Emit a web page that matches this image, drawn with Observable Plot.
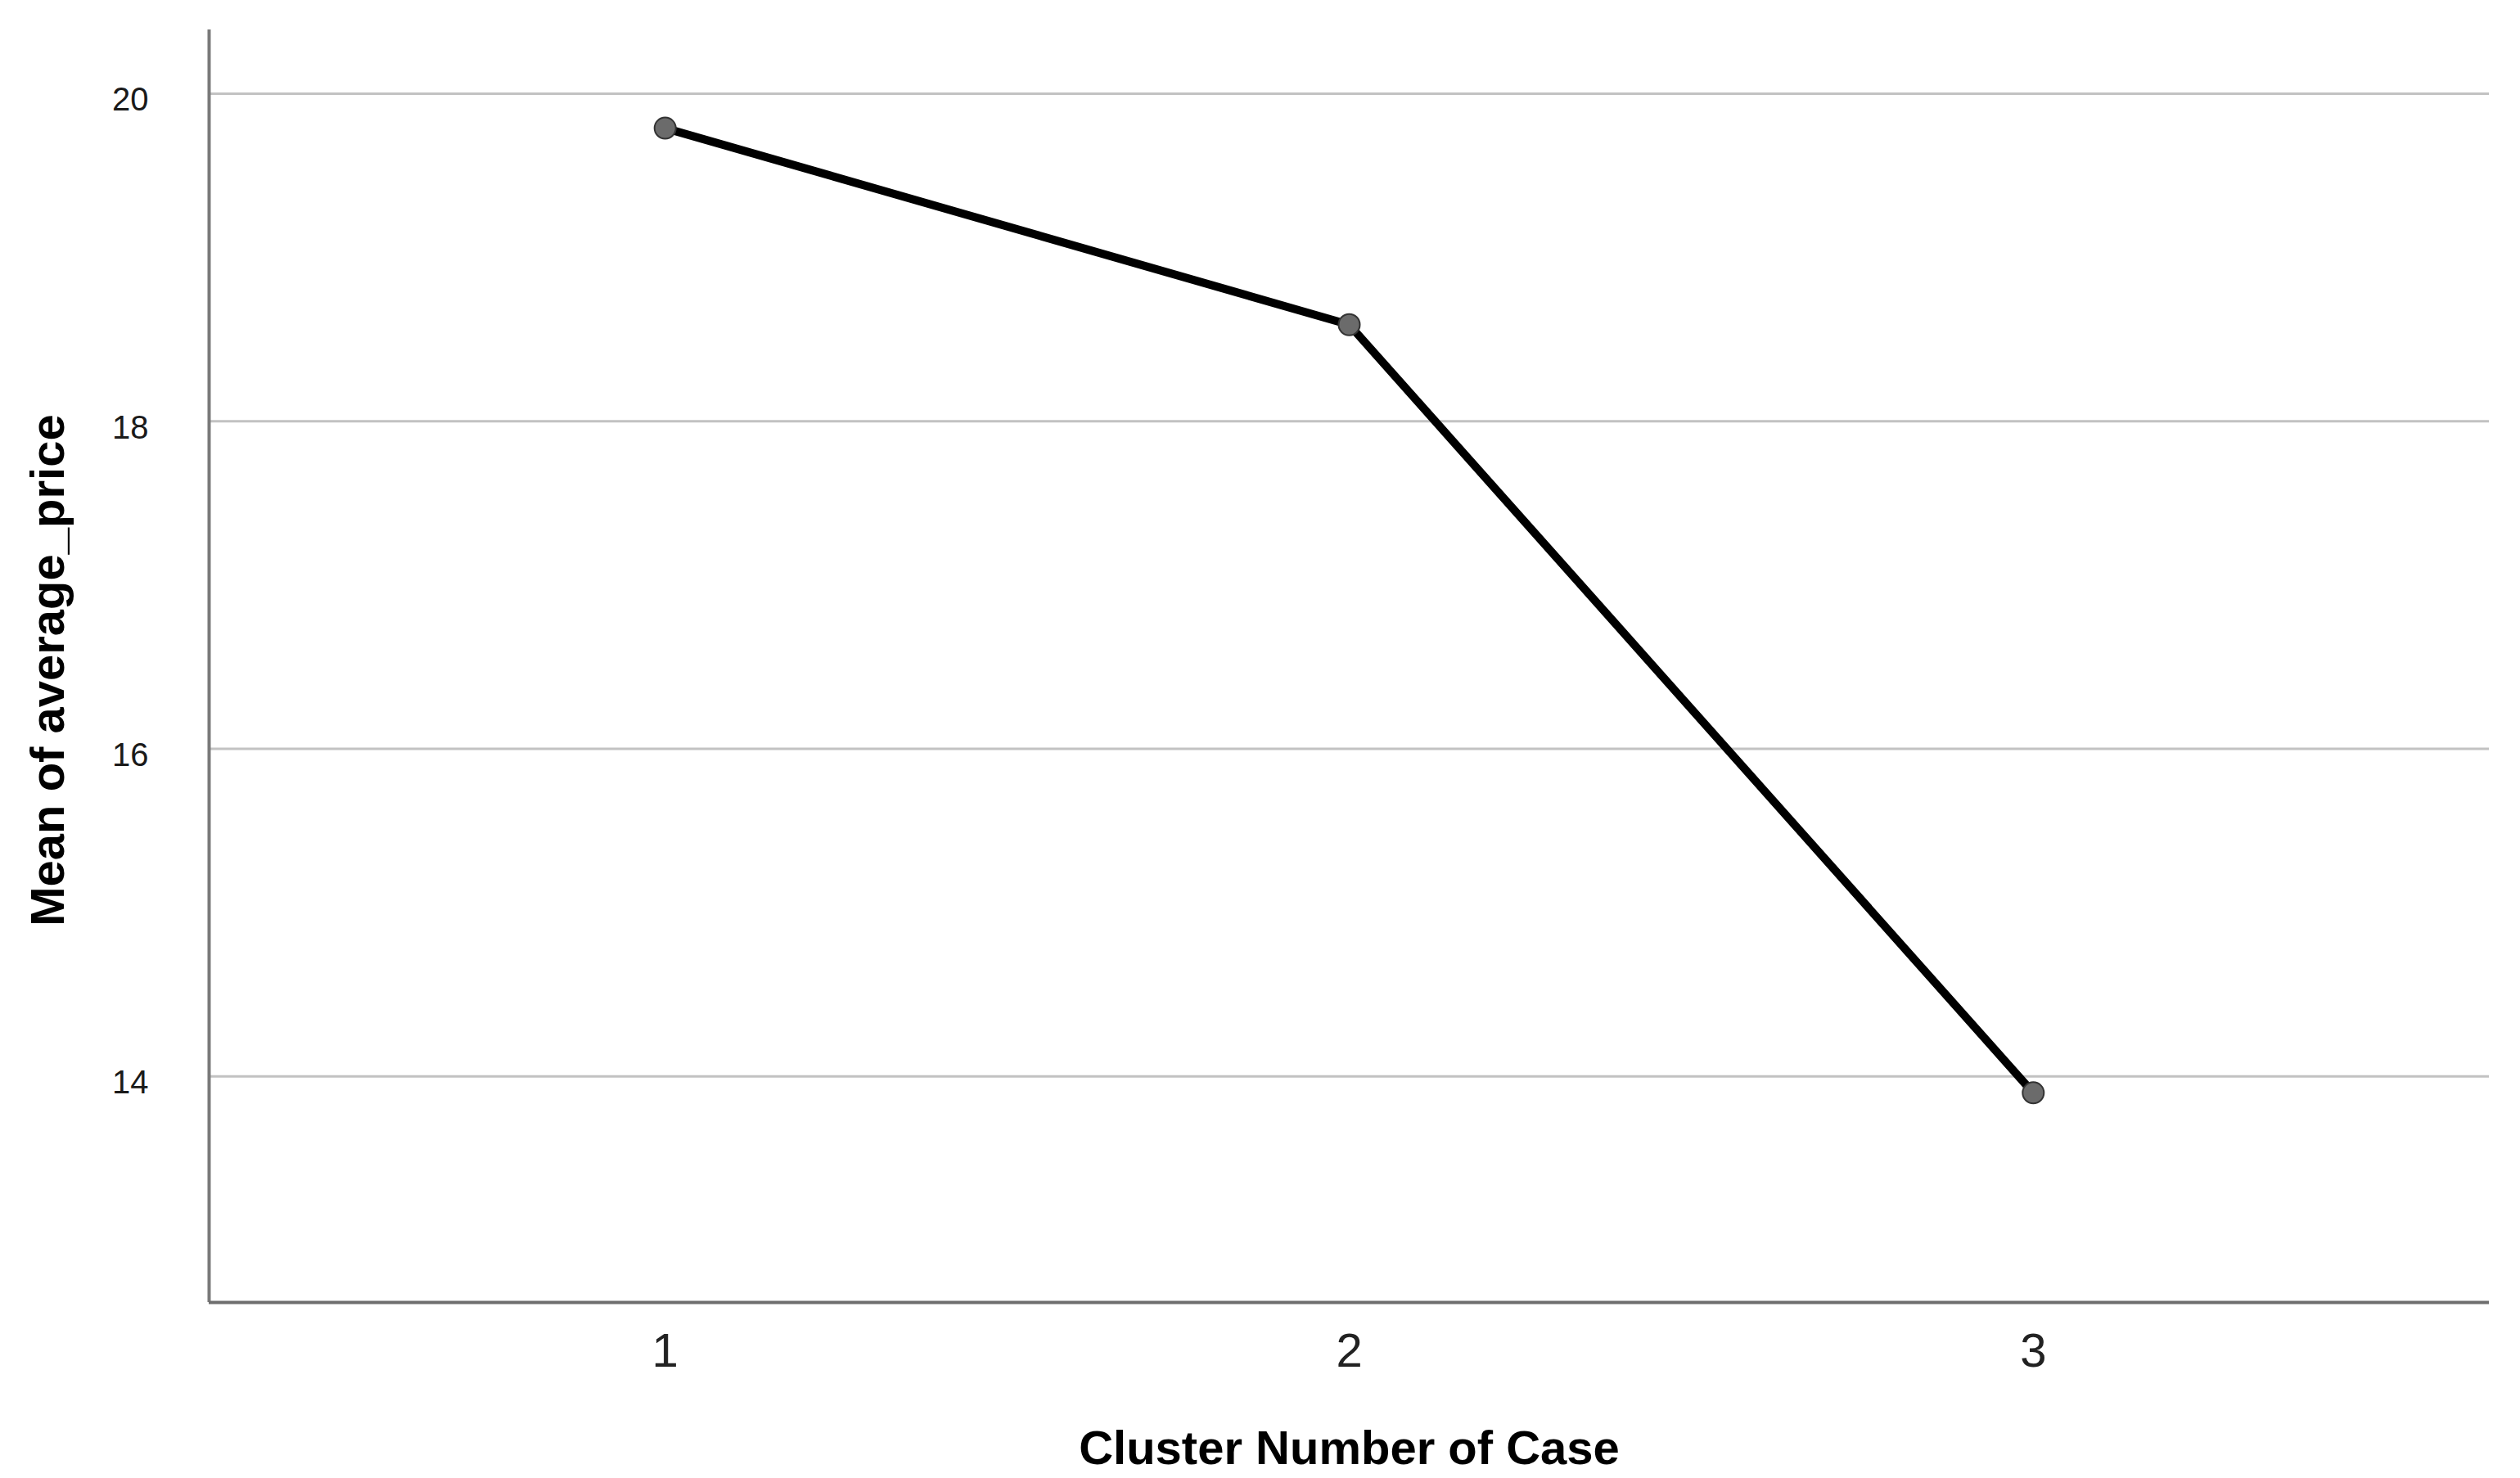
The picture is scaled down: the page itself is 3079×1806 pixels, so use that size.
<!DOCTYPE html>
<html>
<head>
<meta charset="utf-8">
<script src="https://cdn.jsdelivr.net/npm/d3@7"></script>
<script src="https://cdn.jsdelivr.net/npm/@observablehq/plot@0.6"></script>
<style>
  html, body { margin: 0; padding: 0; background: #ffffff; }
  #chart svg { display: block; font-family: "Liberation Sans", Arial, sans-serif; }
</style>
</head>
<body>
<div id="chart"></div>
<script>
// Data
const clusters = [1, 2, 3];
const meanPrice = [19.79, 18.59, 13.90];
const yTicks = [14, 16, 18, 20];
const xTitle = "Cluster Number of Case";
const yTitle = "Mean of average_price";

const xDomain = [1 - 2 / 3, 3 + 2 / 3];
const yDomain = [12.62, 20.39];

const data = clusters.map((c, i) => ({cluster: c, value: meanPrice[i]}));

const chart = Plot.plot({
  width: 3079,
  height: 1806,
  marginLeft: 255,
  marginRight: 38,
  marginTop: 36,
  marginBottom: 215,
  style: {background: "#ffffff", fontFamily: "'Liberation Sans', Arial, sans-serif"},
  x: {type: "linear", domain: xDomain},
  y: {type: "linear", domain: yDomain},
  marks: [
    Plot.ruleY(yTicks, {stroke: "#c2c2c2", strokeWidth: 3}),
    Plot.ruleX([xDomain[0]], {stroke: "#7a7a7a", strokeWidth: 4}),
    Plot.ruleY([yDomain[0]], {stroke: "#6e6e6e", strokeWidth: 4}),
    Plot.axisY({ticks: yTicks, tickSize: 0, tickPadding: 74, fontSize: 40, dy: 8, label: null, fill: "#1a1a1a", tickFormat: d => String(d)}),
    Plot.axisX({ticks: clusters, tickSize: 0, tickPadding: 37, fontSize: 58, label: null, fill: "#222222", tickFormat: d => String(d)}),
    Plot.line(data, {x: "cluster", y: "value", stroke: "#000000", strokeWidth: 10}),
    Plot.dot(data, {x: "cluster", y: "value", r: 13, fill: "#6b6b6b", stroke: "#333333", strokeWidth: 2}),
    Plot.text([xTitle], {text: d => d, frameAnchor: "bottom", lineAnchor: "bottom", dy: 197, fontSize: 58, fontWeight: "bold", fill: "#000000"}),
    Plot.text([yTitle], {text: d => d, frameAnchor: "left", textAnchor: "middle", lineAnchor: "bottom", rotate: -90, dx: -178, dy: 5, fontSize: 58, fontWeight: "bold", fill: "#000000"})
  ]
});

document.getElementById("chart").appendChild(chart);
</script>
</body>
</html>
